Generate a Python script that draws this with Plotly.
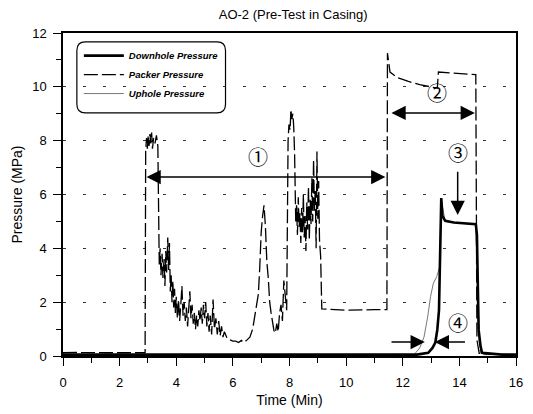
import plotly.graph_objects as go

# ---------------- data ----------------
packer_t = [0.0, 0.5, 1.5, 2.5, 2.9,
            2.92, 2.95, 2.98, 3.01, 3.04, 3.07, 3.10, 3.13, 3.16, 3.20, 3.25, 3.30, 3.35,
            3.38, 3.40, 3.43, 3.46, 3.50, 3.53, 3.57, 3.60, 3.63, 3.66, 3.70, 3.73, 3.76,
            3.79, 3.82, 3.85, 3.88, 3.91, 3.94, 3.97, 4.00, 4.04, 4.08, 4.12, 4.16, 4.20,
            4.24, 4.28, 4.32, 4.36, 4.40, 4.44, 4.48, 4.52, 4.56, 4.60, 4.64, 4.68, 4.72,
            4.76, 4.80, 4.84, 4.88, 4.92, 4.96, 5.00, 5.04, 5.08, 5.12, 5.16, 5.20, 5.25,
            5.30, 5.35, 5.40, 5.45, 5.50, 5.55, 5.60, 5.65, 5.70, 5.80, 5.90, 6.00, 6.10,
            6.20, 6.30, 6.40, 6.50, 6.60, 6.70, 6.80, 6.90, 6.95, 7.00, 7.05, 7.10, 7.15,
            7.20, 7.25, 7.30, 7.35, 7.40, 7.45, 7.50, 7.55, 7.60, 7.65, 7.70, 7.75, 7.80,
            7.90, 7.95, 7.98, 8.02, 8.05, 8.08, 8.12, 8.15, 8.18,
            8.22, 8.25, 8.28, 8.31, 8.34, 8.37, 8.40, 8.43, 8.46, 8.49, 8.52, 8.55, 8.58,
            8.61, 8.64, 8.67, 8.70, 8.73, 8.76, 8.79, 8.82, 8.85, 8.88, 8.91, 8.94, 8.97,
            9.00, 9.03, 9.06, 9.10, 9.14, 10.0, 11.0, 11.44,
            11.46, 11.55, 11.8, 12.2, 12.6, 13.0, 13.22, 13.26, 13.8, 14.3, 14.58,
            14.62, 14.70, 15.2, 15.8]
packer_p = [0.12, 0.13, 0.12, 0.13, 0.12,
            7.6, 8.1, 7.7, 8.2, 7.8, 8.25, 7.9, 8.3, 7.7, 8.1, 7.9, 8.2, 7.8,
            4.0, 3.4, 4.0, 3.0, 3.8, 2.9, 3.6, 2.6, 3.9, 3.1, 4.4, 3.2, 4.2,
            2.4, 3.0, 2.0, 2.8, 1.8, 2.5, 1.6, 2.2, 1.4, 2.1, 1.3, 1.9, 2.6,
            1.5, 2.0, 1.3, 1.8, 1.1, 1.7, 2.4, 1.4, 1.9, 1.2, 1.6, 1.0, 1.5,
            1.1, 1.7, 1.3, 1.8, 1.2, 1.9, 1.4, 2.0, 1.1, 1.6, 0.9, 1.5, 0.8,
            2.1, 1.0, 1.4, 0.8, 1.3, 0.75, 1.1, 0.7, 0.9, 0.65, 0.6, 0.55, 0.55,
            0.5, 0.58, 0.5, 0.6, 0.7, 1.0, 1.6, 2.3, 3.3, 4.6, 5.2, 5.6, 4.8,
            3.5, 2.9, 2.0, 1.6, 1.2, 0.95, 0.85, 1.2, 0.9, 1.6, 1.9, 1.3, 2.8,
            1.7, 8.0, 8.6, 8.4, 9.15, 8.8, 9.0, 8.5, 7.5,
            5.0, 5.6, 4.5, 5.9, 4.8, 5.3, 4.2, 5.5, 4.6, 6.0, 4.4, 5.2, 3.9,
            5.7, 4.7, 6.3, 4.3, 5.8, 4.9, 6.6, 5.0, 7.3, 5.4, 6.2, 4.0, 7.6,
            5.1, 6.5, 4.3, 3.7, 1.75, 1.7, 1.72, 1.72,
            11.25, 10.55, 10.35, 10.2, 10.08, 10.0, 9.95, 10.55, 10.5, 10.47, 10.45,
            0.6, 0.1, 0.06, 0.05]

downhole_t = [0.0, 4.0, 8.0, 12.0, 12.5, 12.9, 13.05, 13.15, 13.22, 13.28, 13.32, 13.36,
              13.40, 13.50, 13.80, 14.20, 14.58, 14.62, 14.65, 14.68, 14.75, 14.80, 15.5, 16.0]
downhole_p = [0.05, 0.05, 0.05, 0.05, 0.05, 0.12, 0.3, 0.5, 0.97, 1.7, 3.3, 5.87,
              5.2, 5.02, 4.96, 4.93, 4.9, 4.5, 2.7, 0.97, 0.35, 0.12, 0.05, 0.05]

uphole_t = [0.0, 4.0, 8.0, 12.0, 12.4, 12.6, 12.75, 12.88, 12.98, 13.08, 13.2, 13.3, 13.36,
            13.5, 14.2, 14.58, 14.65, 14.70, 14.74, 14.78, 14.76, 14.72, 14.85, 16.0]
uphole_p = [0.05, 0.06, 0.05, 0.06, 0.05, 0.3, 0.7, 1.45, 2.2, 2.7, 2.95, 3.3, 5.8,
            5.0, 4.92, 4.88, 2.6, 0.5, 0.3, 0.2, 0.12, 0.22, 0.05, 0.05]

x_ticks = [0, 2, 4, 6, 8, 10, 12, 14, 16]
y_ticks = [0, 2, 4, 6, 8, 10, 12]

FONT = "Liberation Sans, Arial, sans-serif"
CIRC = "Noto Sans CJK JP, Noto Sans CJK SC, sans-serif"

fig = go.Figure()
fig.add_trace(go.Scatter(x=uphole_t, y=uphole_p, mode="lines", name="Uphole Pressure",
                         line=dict(color="#777777", width=1)))
fig.add_trace(go.Scatter(x=packer_t, y=packer_p, mode="lines", name="Packer Pressure",
                         line=dict(color="black", width=1.3, dash="14px,4px")))
fig.add_trace(go.Scatter(x=downhole_t, y=downhole_p, mode="lines", name="Downhole Pressure",
                         line=dict(color="black", width=2.6)))

fig.update_layout(
    width=533, height=414,
    margin=dict(l=63, r=17, t=33, b=58),
    paper_bgcolor="white", plot_bgcolor="white",
    font=dict(family=FONT, color="black", size=13),
    title=dict(text="AO-2 (Pre-Test in Casing)", x=0.55, xanchor="center",
               y=0.966, yanchor="middle", font=dict(size=13, family=FONT)),
    showlegend=True,
    legend=dict(x=0.035, y=0.975, xanchor="left", yanchor="top",
                bgcolor="rgba(0,0,0,0)", borderwidth=0, traceorder="reversed",
                font=dict(size=9.5, family=FONT, weight="bold", style="italic"),
                itemwidth=40, tracegroupgap=4),
)
fig.update_xaxes(range=[0, 16], tickvals=x_ticks, showgrid=False, zeroline=False,
                 automargin=False,
                 showline=True, mirror=True, linecolor="black", linewidth=1.5,
                 ticks="outside", ticklen=8, tickwidth=1.3, tickcolor="black",
                 minor=dict(dtick=1, ticks="outside", ticklen=5, tickwidth=1.2, tickcolor="black"),
                 tickfont=dict(size=13), ticklabelstandoff=6,
                 title=dict(text="Time (Min)", font=dict(size=14), standoff=6))
fig.update_yaxes(range=[0, 12], tickvals=y_ticks, showgrid=True, gridcolor="#333333",
                 griddash="3px,17px", gridwidth=1.2, zeroline=False,
                 automargin=False,
                 showline=True, mirror=True, linecolor="black", linewidth=1.5,
                 ticks="outside", ticklen=8, tickwidth=1.3, tickcolor="black",
                 minor=dict(dtick=1, ticks="outside", ticklen=5, tickwidth=1.2, tickcolor="black"),
                 tickfont=dict(size=13), ticklabelstandoff=4,
                 title=dict(text="Pressure (MPa)", font=dict(size=14), standoff=6))

# rounded legend box
x0, x1, y0, y1 = 0.49, 5.74, 9.03, 11.67
rx, ry = 0.3, 0.32
path = (f"M{x0+rx},{y1} L{x1-rx},{y1} Q{x1},{y1} {x1},{y1-ry} L{x1},{y0+ry} "
        f"Q{x1},{y0} {x1-rx},{y0} L{x0+rx},{y0} Q{x0},{y0} {x0},{y0+ry} "
        f"L{x0},{y1-ry} Q{x0},{y1} {x0+rx},{y1} Z")
fig.add_shape(type="path", path=path, xref="x", yref="y",
              line=dict(color="black", width=1.2))

def arrow(xh, yh, xt, yt, both=False, w=1.5):
    fig.add_annotation(x=xh, y=yh, ax=xt, ay=yt, xref="x", yref="y", axref="x", ayref="y",
                       text="", showarrow=True, arrowhead=2, arrowsize=1.9, arrowwidth=w,
                       arrowcolor="black", arrowside="end+start" if both else "end",
                       standoff=0, startstandoff=0)

arrow(2.95, 6.65, 11.44, 6.65, both=True)
arrow(11.6, 9.03, 14.6, 9.03, both=True)
arrow(13.94, 5.24, 13.94, 6.9)
arrow(12.78, 0.52, 11.55, 0.52)
arrow(13.13, 0.52, 14.25, 0.52)

for txt, xx, yy in [("①", 6.87, 7.4), ("②", 13.2, 9.78), ("③", 13.94, 7.55), ("④", 13.94, 1.23)]:
    fig.add_annotation(x=xx, y=yy, xref="x", yref="y", text=txt, showarrow=False,
                       font=dict(size=20, family=CIRC, color="black"))

fig.write_html("out.html")
